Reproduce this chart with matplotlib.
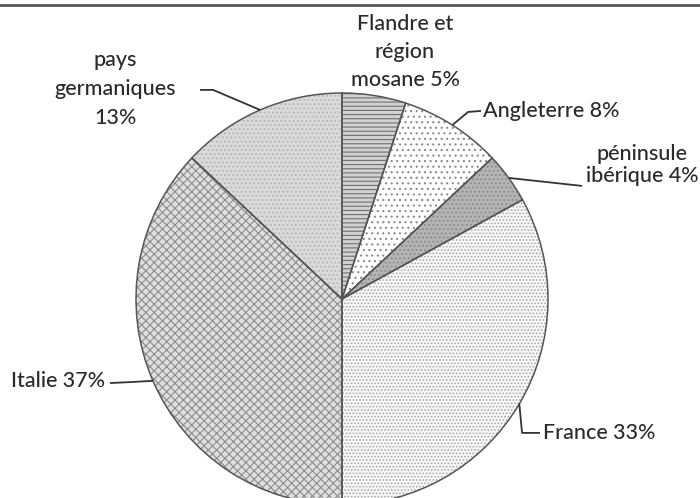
import numpy as np
import matplotlib.pyplot as plt
from matplotlib.lines import Line2D

plt.rcParams['font.family'] = ['Lato', 'DejaVu Sans']
plt.rcParams['hatch.linewidth'] = 0.8

# data
regions = ['Flandre et\nrégion\nmosane', 'Angleterre', 'péninsule\nibérique',
           'France', 'Italie', 'pays\ngermaniques\n']
shares = [5, 8, 4, 33, 37, 13]

# slice look
faces = ['#d2d2d2', '#ffffff', '#b4b4b4', '#f8f8f8', '#dedede', '#dadada']
hatches = ['----', '...', '....', '.....', 'xxxx', '....']
hatch_cols = ['#707070', '#8a8a8a', '#8a8a8a', '#a8a8a8', '#8c8c8c', '#b5b5b5']

# label layout: (text x, text y, ha, elbow, line end, linespacing)
layout = [
    (0.306, 1.198, 'center', None, None, 1.5),
    (0.684, 0.915, 'left', (0.612, 0.908), (0.675, 0.913), 1.2),
    (1.456, 0.650, 'center', None, (1.165, 0.549), 1.1),
    (0.976, -0.652, 'left', (0.874, -0.650), (0.961, -0.650), 1.2),
    (-1.150, -0.400, 'right', (-1.019, -0.403), (-1.126, -0.408), 1.2),
    (-1.102, 1.019, 'center', (-0.626, 1.015), (-0.689, 1.015), 1.55),
]

fig = plt.figure(figsize=(7, 4.98), dpi=100)
ax = fig.add_axes([0, 0, 1, 1])

wedges, _ = ax.pie(shares, startangle=90, counterclock=False, radius=1,
                   colors=faces, wedgeprops=dict(linewidth=0))
for w, h, hc in zip(wedges, hatches, hatch_cols):
    w.set_hatch(h)
    w.set_edgecolor(hc)

# outlines on top
ax.pie(shares, startangle=90, counterclock=False, radius=1,
       wedgeprops=dict(fill=False, edgecolor='#555555', linewidth=1.1))

ax.set_xlim(-342 / 206, 358 / 206)
ax.set_ylim(-199 / 206, 299 / 206)
ax.set_aspect('auto')
ax.axis('off')

txt_col = '#2a2a2a'
for w, name, val, (tx, ty, ha, elbow, end, ls) in zip(wedges, regions, shares, layout):
    if name.endswith('\n'):
        label = name + f'{val}%'
    else:
        label = f'{name} {val}%'
    ax.text(tx, ty, label, ha=ha, va='center', fontsize=15.5, color=txt_col,
            linespacing=ls, multialignment='center', fontweight='medium')
    if end is None:
        continue
    mid = np.deg2rad((w.theta1 + w.theta2) / 2)
    p0 = (np.cos(mid), np.sin(mid))
    pts = [p0] + ([elbow] if elbow else []) + [end]
    xs, ys = zip(*pts)
    ax.plot(xs, ys, color='#333333', lw=1.3, solid_capstyle='butt')

fig.add_artist(Line2D([0, 1], [1 - 5 / 498] * 2, transform=fig.transFigure,
                      color='#555555', lw=2))

fig.savefig('out.png', dpi=100)
